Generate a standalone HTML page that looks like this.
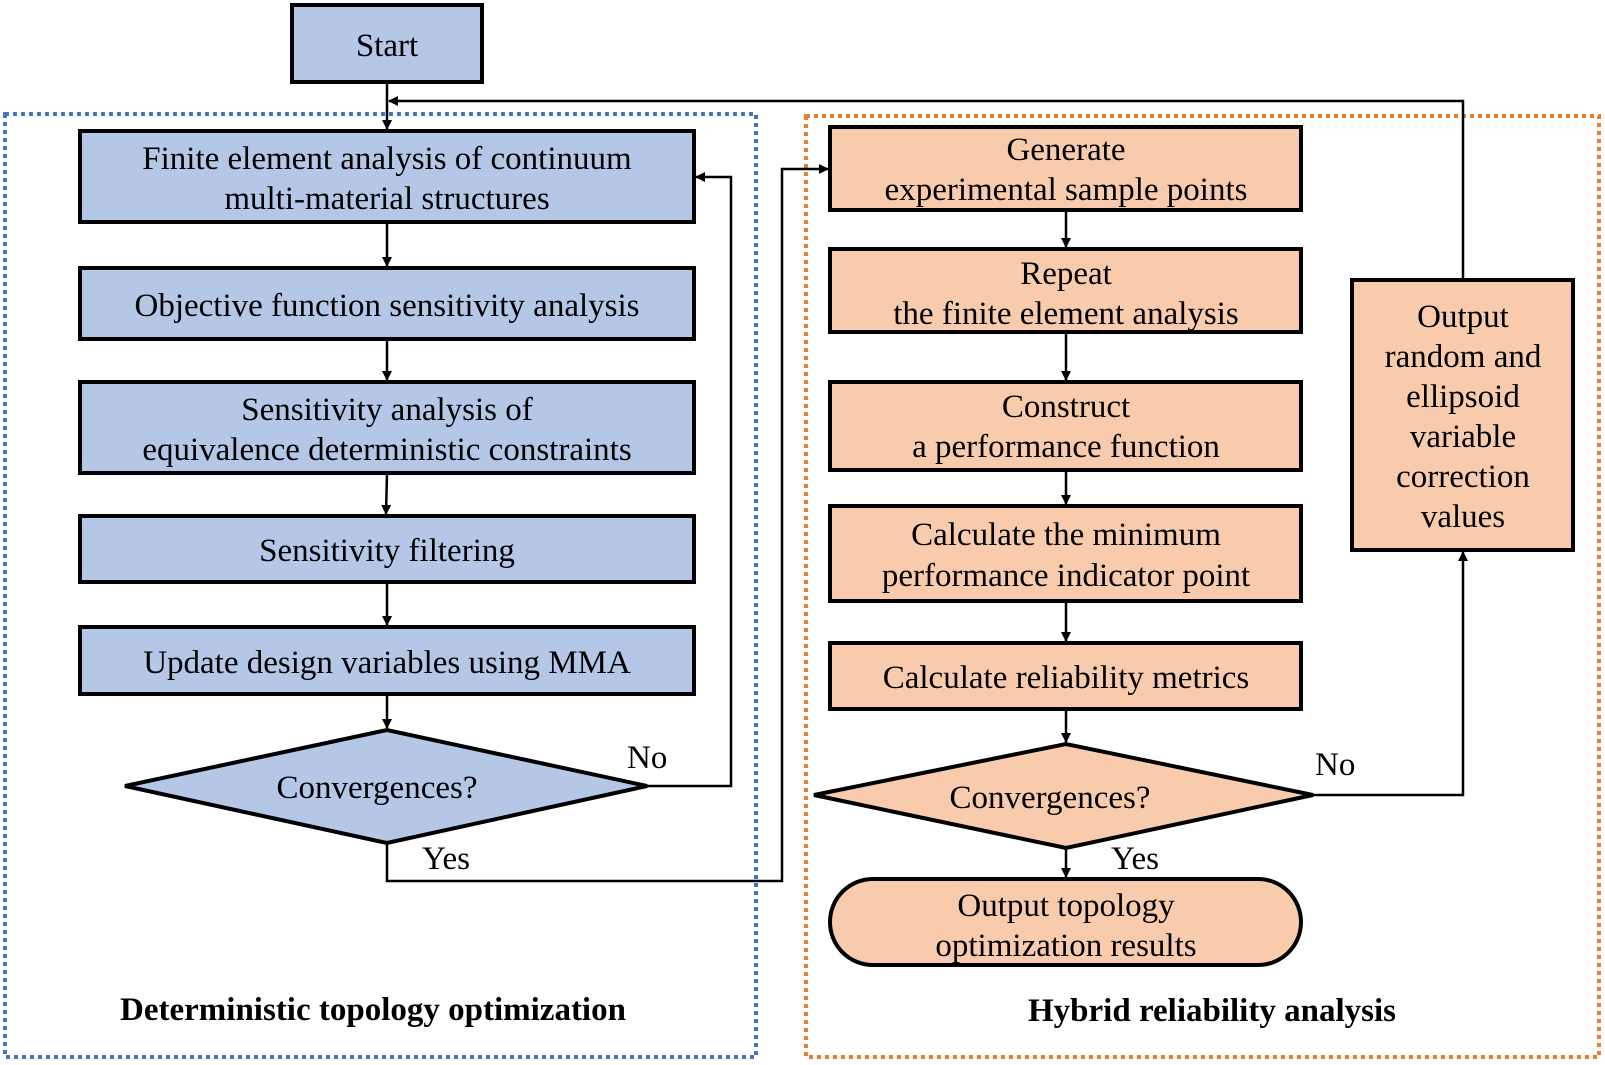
<!DOCTYPE html>
<html><head><meta charset="utf-8"><style>
html,body{margin:0;padding:0;background:#fff;}
svg{display:block;}
text{font-family:"Liberation Serif","Times New Roman","DejaVu Serif",serif;font-size:33px;fill:#000;}
.b{font-weight:bold;font-size:33px;}
</style></head><body>
<svg width="1605" height="1065" viewBox="0 0 1605 1065" xmlns="http://www.w3.org/2000/svg" font-family="Liberation Serif, serif">
<defs>
<marker id="a" markerWidth="10" markerHeight="10" refX="9" refY="5" orient="auto" markerUnits="userSpaceOnUse">
<path d="M0,0 L10,5 L0,10 z" fill="#000"/></marker>
</defs>
<rect x="5" y="114" width="751" height="943" fill="none" stroke="#4472c4" stroke-width="4" stroke-dasharray="4,4"/>
<rect x="806" y="116" width="793" height="941" fill="none" stroke="#ed7d31" stroke-width="4" stroke-dasharray="4,4"/>

<g stroke="#000" stroke-width="4">
<rect x="292" y="5" width="190" height="77" fill="#b4c7e7"/>
<rect x="80" y="131" width="614" height="91" fill="#b4c7e7"/>
<rect x="80" y="268" width="614" height="71" fill="#b4c7e7"/>
<rect x="80" y="382" width="614" height="91" fill="#b4c7e7"/>
<rect x="80" y="516" width="614" height="66" fill="#b4c7e7"/>
<rect x="80" y="627" width="614" height="67" fill="#b4c7e7"/>
<polygon points="125,786 387,730 647,786 387,843" fill="#b4c7e7"/>

<rect x="830" y="127" width="471" height="83" fill="#f8cbad"/>
<rect x="830" y="249" width="471" height="83" fill="#f8cbad"/>
<rect x="830" y="382" width="471" height="88" fill="#f8cbad"/>
<rect x="830" y="506" width="471" height="95" fill="#f8cbad"/>
<rect x="830" y="643" width="471" height="66" fill="#f8cbad"/>
<polygon points="814,795 1066,744 1313,795 1066,848" fill="#f8cbad"/>
<rect x="830" y="879" width="471" height="86" rx="43" fill="#f8cbad"/>
<rect x="1352" y="280" width="221" height="270" fill="#f8cbad"/>
</g>

<g stroke="#000" stroke-width="2.5" fill="none">
<line x1="387" y1="82" x2="387" y2="129" marker-end="url(#a)"/>
<polyline points="1463,280 1463,101 389,101" marker-end="url(#a)"/>
<line x1="387" y1="222" x2="387" y2="266" marker-end="url(#a)"/>
<line x1="387" y1="339" x2="387" y2="380" marker-end="url(#a)"/>
<line x1="387" y1="473" x2="386" y2="514" marker-end="url(#a)"/>
<line x1="387" y1="582" x2="387" y2="625" marker-end="url(#a)"/>
<line x1="387" y1="694" x2="387" y2="728" marker-end="url(#a)"/>
<polyline points="647,786 731,786 731,177 696,177" marker-end="url(#a)"/>
<polyline points="387,843 387,881 782,881 782,169 828,169" marker-end="url(#a)"/>
<line x1="1066" y1="210" x2="1066" y2="247" marker-end="url(#a)"/>
<line x1="1066" y1="332" x2="1066" y2="380" marker-end="url(#a)"/>
<line x1="1066" y1="470" x2="1066" y2="504" marker-end="url(#a)"/>
<line x1="1066" y1="601" x2="1066" y2="641" marker-end="url(#a)"/>
<line x1="1066" y1="709" x2="1066" y2="742" marker-end="url(#a)"/>
<line x1="1066" y1="848" x2="1066" y2="877" marker-end="url(#a)"/>
<polyline points="1313,795 1463,795 1463,552" marker-end="url(#a)"/>
</g>

<g text-anchor="middle">
<text x="387" y="56">Start</text>
<text x="387" y="169">Finite element analysis of continuum</text>
<text x="387" y="209">multi-material structures</text>
<text x="387" y="316">Objective function sensitivity analysis</text>
<text x="387" y="420">Sensitivity analysis of</text>
<text x="387" y="460">equivalence deterministic constraints</text>
<text x="387" y="561">Sensitivity filtering</text>
<text x="387" y="673">Update design variables using MMA</text>
<text x="377" y="798">Convergences?</text>
<text x="1066" y="160">Generate</text>
<text x="1066" y="200">experimental sample points</text>
<text x="1066" y="284">Repeat</text>
<text x="1066" y="324">the finite element analysis</text>
<text x="1066" y="417">Construct</text>
<text x="1066" y="457">a performance function</text>
<text x="1066" y="545">Calculate the minimum</text>
<text x="1066" y="586">performance indicator point</text>
<text x="1066" y="688">Calculate reliability metrics</text>
<text x="1050" y="808">Convergences?</text>
<text x="1066" y="916">Output topology</text>
<text x="1066" y="956">optimization results</text>
<text x="1463" y="327">Output</text>
<text x="1463" y="367">random and</text>
<text x="1463" y="407">ellipsoid</text>
<text x="1463" y="447">variable</text>
<text x="1463" y="487">correction</text>
<text x="1463" y="527">values</text>
<text class="b" x="373" y="1020">Deterministic topology optimization</text>
<text class="b" x="1212" y="1021">Hybrid reliability analysis</text>
</g>
<text x="627" y="768">No</text>
<text x="422" y="869">Yes</text>
<text x="1315" y="775">No</text>
<text x="1111" y="869">Yes</text>
</svg>
</body></html>
